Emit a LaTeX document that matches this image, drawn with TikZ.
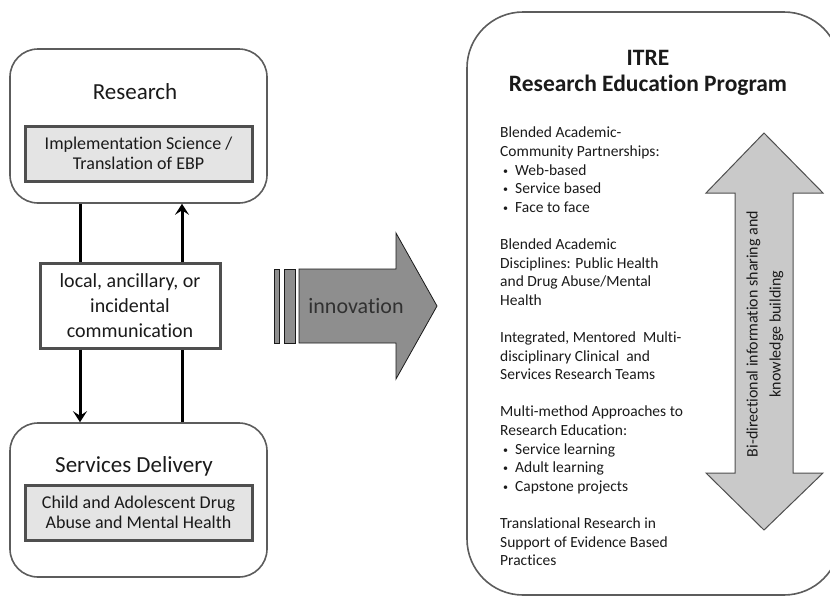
\documentclass[tikz,border=0pt]{standalone}
\usepackage{fontspec}
\setmainfont[Ligatures=NoCommon]{Carlito}
\usepackage{tikz}
\usetikzlibrary{arrows.meta, positioning}

\definecolor{rimgray}{HTML}{5C5C5C}
\definecolor{framegray}{HTML}{4F4F4F}
\definecolor{panelgray}{HTML}{E4E4E4}
\definecolor{innovgray}{HTML}{8E8E8E}
\definecolor{flowgray}{HTML}{C9C9C9}
\definecolor{inkgray}{HTML}{1A1A1A}

\newcommand{\bul}[1]{\hspace*{3pt}\raisebox{1pt}{\fontsize{10}{10}\selectfont\textbullet}\hspace{7pt}#1}

\tikzset{
  stagebox/.style={draw=rimgray, line width=1.6pt, rounded corners=28pt,
    minimum width=257pt, minimum height=154pt},
  topicbox/.style={draw=framegray, fill=panelgray, line width=3pt, align=center,
    minimum width=227pt, minimum height=55pt, text=inkgray,
    font=\fontsize{18}{19.5}\selectfont},
  stagetitle/.style={text=inkgray, font=\fontsize{23}{26}\selectfont},
  flowline/.style={line width=3pt, black}
}

\begin{document}
\begin{tikzpicture}[x=1pt, y=-1pt]
  \useasboundingbox (0,0) rectangle (830,598);

  \node[stagebox] (research) at (138.5,126) {};
  \node[stagetitle] (researchtitle) at (135,92) {Research};
  \node[topicbox] (science) at (138.5,153.5) {Implementation Science /\\Translation of EBP};

  \node[draw=framegray, line width=3pt, minimum width=180pt, minimum height=85pt,
    align=center, text=inkgray, font=\fontsize{20}{25}\selectfont]
    (comm) at (130,305.5) {local, ancillary, or\\incidental\\communication};

  \node[stagebox] (services) at (138.5,500) {};
  \node[stagetitle] (servicestitle) at (134,466) {Services Delivery};
  \node[topicbox] (youth) at (138.5,512.5) {Child and Adolescent Drug\\Abuse and Mental Health};

  \coordinate (down) at (80,0);
  \coordinate (up) at (182,0);
  \draw[flowline] (research.south -| down) -- (comm.north -| down);
  \draw[flowline, -{Stealth[length=11pt, width=14pt, inset=4.5pt]}] (comm.south -| down) -- (services.north -| down);
  \draw[flowline] (services.north -| up) -- (comm.south -| up);
  \draw[flowline, -{Stealth[length=11pt, width=14pt, inset=4.5pt]}] (comm.north -| up) -- (research.south -| up);

  \draw[draw=inkgray, fill=innovgray, line width=0.8pt] (274,269) rectangle (279,343);
  \draw[draw=inkgray, fill=innovgray, line width=0.8pt] (284,269) rectangle (295,343);
  \draw[draw=inkgray, fill=innovgray, line width=0.8pt]
    (299,269) -- (396,269) -- (396,233) -- (437,306) -- (396,379) -- (396,343) -- (299,343) -- cycle;
  \node[text=inkgray!90, font=\fontsize{22}{26}\selectfont] (innovation) at (356,306) {innovation};

  \draw[draw=rimgray, line width=1.6pt, rounded corners=56pt] (467,12) rectangle (840,595);
  \node[font=\bfseries\fontsize{23.5}{26}\selectfont, text=inkgray, align=center]
    (itre) at (648,73) {ITRE\\Research Education Program};

  \node[anchor=north west, inner sep=0pt, align=left, text=inkgray,
    font=\fontsize{15.5}{18.6}\selectfont] (program) at (500,127) {%
    Blended Academic-\\
    Community Partnerships:\\
    \bul{Web-based}\\
    \bul{Service based}\\
    \bul{Face to face}\\[18.6pt]
    Blended Academic\\
    Disciplines: Public Health\\
    and Drug Abuse/Mental\\
    Health\\[18.6pt]
    Integrated, Mentored\ \ Multi-\\
    disciplinary Clinical\ \ and\\
    Services Research Teams\\[18.6pt]
    Multi-method Approaches to\\
    Research Education:\\
    \bul{Service learning}\\
    \bul{Adult learning}\\
    \bul{Capstone projects}\\[18.6pt]
    Translational Research in\\
    Support of Evidence Based\\
    Practices};

  \draw[draw=framegray, fill=flowgray, line width=1pt]
    (764,133) -- (823,193) -- (793,193) -- (793,473) -- (823,473) -- (764,530)
    -- (706,473) -- (735,473) -- (735,193) -- (706,193) -- cycle;
  \node[rotate=90, align=center, text=inkgray, font=\fontsize{16}{23}\selectfont]
    (sharing) at (765,334) {Bi-directional information sharing and\\knowledge building};
\end{tikzpicture}
\end{document}
